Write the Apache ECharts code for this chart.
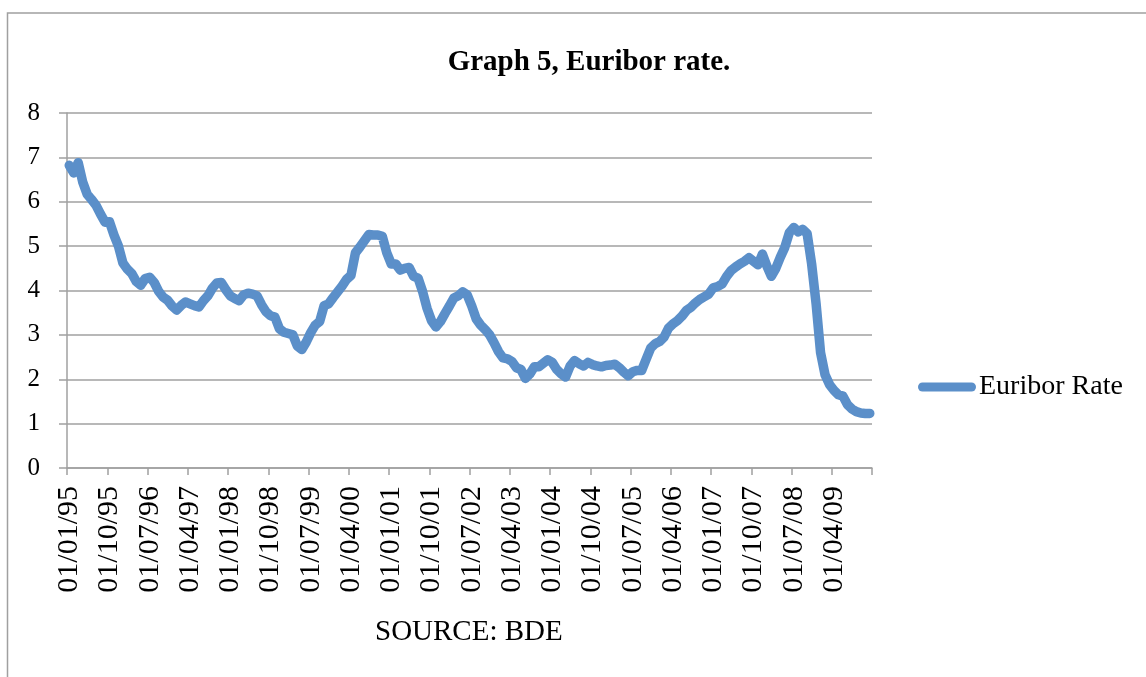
<!DOCTYPE html>
<html>
<head>
<meta charset="utf-8">
<script src="https://cdn.jsdelivr.net/npm/echarts@6/dist/echarts.min.js"></script>
<style>
  html, body { margin: 0; padding: 0; background: #fff; }
  #main { width: 1146px; height: 677px; }
</style>
</head>
<body>
<div id="main"></div>
<script>
// monthly rate, one array per year (Jan..Dec)
var rate1995 = [6.82, 6.65, 6.88, 6.45, 6.17, 6.05, 5.92, 5.72, 5.54, 5.55, 5.25, 5.00];
var rate1996 = [4.62, 4.48, 4.38, 4.20, 4.12, 4.27, 4.30, 4.18, 3.98, 3.85, 3.78, 3.65];
var rate1997 = [3.56, 3.66, 3.74, 3.70, 3.66, 3.63, 3.77, 3.88, 4.05, 4.17, 4.18, 4.02];
var rate1998 = [3.88, 3.82, 3.77, 3.90, 3.94, 3.92, 3.88, 3.68, 3.52, 3.43, 3.40, 3.14];
var rate1999 = [3.06, 3.03, 3.00, 2.75, 2.67, 2.84, 3.05, 3.22, 3.30, 3.66, 3.70, 3.84];
var rate2000 = [3.97, 4.10, 4.25, 4.34, 4.85, 4.98, 5.12, 5.26, 5.25, 5.25, 5.22, 4.85];
var rate2001 = [4.60, 4.60, 4.46, 4.50, 4.52, 4.32, 4.28, 3.98, 3.60, 3.32, 3.18, 3.30];
var rate2002 = [3.48, 3.65, 3.83, 3.88, 3.97, 3.90, 3.65, 3.36, 3.22, 3.12, 3.00, 2.82];
var rate2003 = [2.62, 2.48, 2.46, 2.40, 2.26, 2.22, 2.02, 2.12, 2.28, 2.28, 2.36, 2.44];
var rate2004 = [2.38, 2.22, 2.12, 2.05, 2.30, 2.42, 2.35, 2.30, 2.38, 2.33, 2.30, 2.28];
var rate2005 = [2.31, 2.32, 2.34, 2.26, 2.16, 2.08, 2.17, 2.20, 2.20, 2.45, 2.70, 2.80];
var rate2006 = [2.85, 2.95, 3.15, 3.25, 3.32, 3.42, 3.55, 3.62, 3.72, 3.80, 3.86, 3.92];
var rate2007 = [4.06, 4.09, 4.15, 4.32, 4.45, 4.53, 4.60, 4.66, 4.74, 4.66, 4.58, 4.82];
var rate2008 = [4.55, 4.32, 4.50, 4.75, 4.97, 5.30, 5.42, 5.32, 5.38, 5.28, 4.60, 3.70];
var rate2009 = [2.60, 2.10, 1.88, 1.75, 1.65, 1.62, 1.43, 1.33, 1.27, 1.24, 1.23, 1.23];

var years = [95, 96, 97, 98, 99, 0, 1, 2, 3, 4, 5, 6, 7, 8, 9];
var yTicks = [0, 8, 1]; // min, max, step

var rates = [].concat(rate1995, rate1996, rate1997, rate1998, rate1999, rate2000,
  rate2001, rate2002, rate2003, rate2004, rate2005, rate2006, rate2007, rate2008, rate2009);

function pad(n) { return (n < 10 ? '0' : '') + n; }
var dates = [];
years.forEach(function (y) {
  for (var m = 1; m <= 12; m++) dates.push('01/' + pad(m) + '/' + pad(y));
});

var chart = echarts.init(document.getElementById('main'), null, { renderer: 'canvas' });

var serif = 'Liberation Serif, Times New Roman, serif';
var gridGray = '#A0A0A0';
var blue = '#5B8FC9';

var option = {
  animation: false,
  backgroundColor: '#fff',
  title: {
    text: 'Graph 5, Euribor rate.',
    left: 584,
    top: 43,
    textAlign: 'center',
    textStyle: { fontFamily: serif, fontSize: 29, fontWeight: 'bold', color: '#000' }
  },
  legend: {
    data: ['Euribor Rate'],
    left: 913,
    top: 368,
    // capsule shaped icon like the thick line sample
    icon: 'path://M4.5,0 L53.5,0 A4.5,4.5 0 0 1 53.5,9 L4.5,9 A4.5,4.5 0 0 1 4.5,0 Z',
    itemWidth: 60,
    itemHeight: 9,
    itemGap: 0,
    itemStyle: { color: blue },
    textStyle: { fontFamily: serif, fontSize: 28, color: '#000', padding: [0, 0, 0, -3] }
  },
  grid: {
    left: 67,
    right: 274,
    top: 113,
    bottom: 209,
    containLabel: false,
    outerBoundsMode: 'none'
  },
  xAxis: {
    type: 'category',
    data: dates,
    boundaryGap: true,
    axisLine: { lineStyle: { color: gridGray, width: 1.5 } },
    axisTick: { show: true, interval: 8, length: 7, lineStyle: { color: gridGray, width: 1.5 } },
    axisLabel: {
      interval: 8,
      rotate: 90,
      margin: 18,
      fontFamily: serif,
      fontSize: 30,
      color: '#000'
    },
    splitLine: { show: false }
  },
  yAxis: {
    type: 'value',
    min: yTicks[0],
    max: yTicks[1],
    interval: yTicks[2],
    axisLine: { show: true, lineStyle: { color: gridGray, width: 1.5 } },
    axisTick: { show: true, length: 8, lineStyle: { color: gridGray, width: 1.5 } },
    axisLabel: { margin: 27, fontFamily: serif, fontSize: 25, color: '#000' },
    splitLine: { show: true, lineStyle: { color: gridGray, width: 1.5 } }
  },
  graphic: [
    {
      type: 'rect',
      shape: { x: 7.5, y: 13, width: 1300, height: 800 },
      style: { fill: 'none', stroke: gridGray, lineWidth: 1.5 },
      silent: true
    },
    {
      type: 'text',
      left: 375,
      top: 618,
      style: { text: 'SOURCE: BDE', font: '29px ' + serif, fill: '#000' }
    }
  ],
  series: [{
    name: 'Euribor Rate',
    type: 'line',
    data: rates,
    symbol: 'none',
    showSymbol: false,
    smooth: false,
    lineStyle: { color: blue, width: 9.5, cap: 'round', join: 'round' },
    itemStyle: { color: blue }
  }]
};

chart.setOption(option);
</script>
</body>
</html>
